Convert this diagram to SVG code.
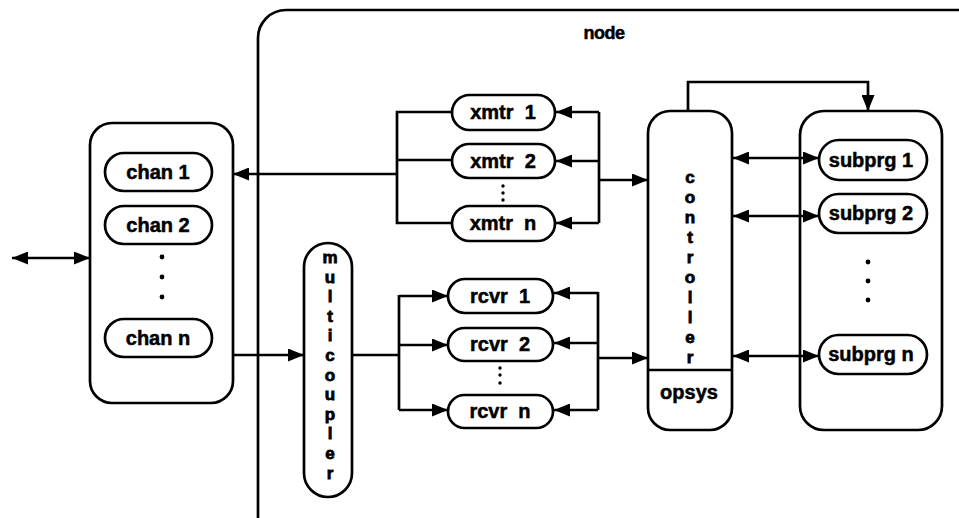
<svg xmlns="http://www.w3.org/2000/svg" width="959" height="518" viewBox="0 0 959 518">
  <defs>
    <marker id="ah" markerUnits="userSpaceOnUse" markerWidth="16" markerHeight="13" refX="16" refY="6.5" orient="auto-start-reverse">
      <path d="M0,0 L16,6.5 L0,13 z" fill="#000"/>
    </marker>
    <style>
      .box { fill: #fff; stroke: #000; stroke-width: 2.7; }
      .ln { fill: none; stroke: #000; stroke-width: 2.7; }
      .arr { marker-end: url(#ah); }
      .dbl { marker-start: url(#ah); marker-end: url(#ah); }
      text { font-family: "Liberation Sans", Arial, sans-serif; font-weight: bold; font-size: 20px; fill: #000; stroke: #000; stroke-width: 0.5; text-anchor: middle; white-space: pre; }
      .v { font-size: 17px; stroke-width: 0.8; }
      .dot { fill: #000; }
    </style>
  </defs>
  <rect width="959" height="518" fill="#fff"/>

  <!-- enclosing node -->
  <g id="node">
    <rect class="box" x="258" y="10" width="740" height="540" rx="28"/>
    <text x="604" y="39" style="font-size:18px;letter-spacing:-0.5px">node</text>
  </g>

  <!-- channel bank -->
  <g id="channels">
    <rect class="box" x="90" y="123" width="143" height="280" rx="22"/>
    <g id="chan1"><rect class="box" x="105" y="153" width="107" height="38" rx="19"/><text x="158" y="179">chan 1</text></g>
    <g id="chan2"><rect class="box" x="105" y="206" width="107" height="38" rx="19"/><text x="158" y="232">chan 2</text></g>
    <circle class="dot" cx="162" cy="257" r="2.4"/>
    <circle class="dot" cx="162" cy="277" r="2.4"/>
    <circle class="dot" cx="162" cy="297" r="2.4"/>
    <g id="chann"><rect class="box" x="105" y="319" width="107" height="38" rx="19"/><text x="158" y="345">chan n</text></g>
  </g>

  <!-- multicoupler: label stacked one letter per line -->
  <g id="multicoupler">
    <rect class="box" x="304" y="243" width="48" height="254" rx="24"/>
    <text class="v" x="330" y="263"><tspan x="330">m</tspan><tspan x="330" dy="19.6">u</tspan><tspan x="330" dy="19.6">l</tspan><tspan x="330" dy="19.6">t</tspan><tspan x="330" dy="19.6">i</tspan><tspan x="330" dy="19.6">c</tspan><tspan x="330" dy="19.6">o</tspan><tspan x="330" dy="19.6">u</tspan><tspan x="330" dy="19.6">p</tspan><tspan x="330" dy="19.6">l</tspan><tspan x="330" dy="19.6">e</tspan><tspan x="330" dy="19.6">r</tspan></text>
  </g>

  <!-- transmitters -->
  <g id="xmtr1"><rect class="box" x="452" y="95" width="103" height="35" rx="17.5"/><text x="503" y="119">xmtr  1</text></g>
  <g id="xmtr2"><rect class="box" x="452" y="144" width="103" height="34" rx="17"/><text x="503" y="168">xmtr  2</text></g>
  <g id="xmtrn"><rect class="box" x="452" y="206" width="103" height="35" rx="17.5"/><text x="503" y="230">xmtr  n</text></g>
  <circle class="dot" cx="503" cy="186" r="1.7"/>
  <circle class="dot" cx="503" cy="193" r="1.7"/>
  <circle class="dot" cx="503" cy="200" r="1.7"/>

  <!-- receivers -->
  <g id="rcvr1"><rect class="box" x="448" y="279" width="105" height="34" rx="17"/><text x="500" y="303">rcvr  1</text></g>
  <g id="rcvr2"><rect class="box" x="448" y="328" width="105" height="33" rx="16.5"/><text x="500" y="351">rcvr  2</text></g>
  <g id="rcvrn"><rect class="box" x="448" y="395" width="105" height="33" rx="16.5"/><text x="500" y="418">rcvr  n</text></g>
  <circle class="dot" cx="500" cy="368" r="1.7"/>
  <circle class="dot" cx="500" cy="375" r="1.7"/>
  <circle class="dot" cx="500" cy="383" r="1.7"/>

  <!-- controller with operating system compartment -->
  <g id="controller">
    <rect class="box" x="648" y="111" width="84" height="319" rx="22"/>
    <line class="ln" x1="648" y1="370" x2="732" y2="370"/>
    <text class="v" x="690" y="183"><tspan x="690">c</tspan><tspan x="690" dy="20">o</tspan><tspan x="690" dy="20">n</tspan><tspan x="690" dy="20">t</tspan><tspan x="690" dy="20">r</tspan><tspan x="690" dy="20">o</tspan><tspan x="690" dy="20">l</tspan><tspan x="690" dy="20">l</tspan><tspan x="690" dy="20">e</tspan><tspan x="690" dy="20">r</tspan></text>
    <text x="689" y="399">opsys</text>
  </g>

  <!-- subprograms -->
  <g id="subprograms">
    <rect class="box" x="800" y="111" width="142" height="319" rx="24"/>
    <g id="subprg1"><rect class="box" x="819" y="140" width="108" height="40" rx="20"/><text x="871" y="167">subprg 1</text></g>
    <g id="subprg2"><rect class="box" x="819" y="194" width="108" height="39" rx="19.5"/><text x="871" y="220">subprg 2</text></g>
    <circle class="dot" cx="868" cy="262" r="2.4"/>
    <circle class="dot" cx="868" cy="281" r="2.4"/>
    <circle class="dot" cx="868" cy="300" r="2.4"/>
    <g id="subprgn"><rect class="box" x="819" y="335" width="108" height="39" rx="19.5"/><text x="871" y="361">subprg n</text></g>
  </g>

  <!-- connectors -->
  <g id="connectors">
    <path class="ln dbl" d="M12,258 H90"/>
    <path class="ln arr" d="M397,174 H233"/>
    <path class="ln" d="M452,112 H397 V223 H452 M397,160 H452"/>
    <path class="ln" d="M599,112 V223"/>
    <path class="ln arr" d="M599,112 H556"/>
    <path class="ln arr" d="M599,161 H556"/>
    <path class="ln arr" d="M599,223 H556"/>
    <path class="ln arr" d="M599,180 H648"/>
    <path class="ln arr" d="M233,355 H304"/>
    <path class="ln" d="M352,355 H399 M399,295 V410"/>
    <path class="ln arr" d="M399,296 H448"/>
    <path class="ln arr" d="M399,345 H448"/>
    <path class="ln arr" d="M399,410 H448"/>
    <path class="ln" d="M598,292 V410"/>
    <path class="ln arr" d="M598,293 H554"/>
    <path class="ln arr" d="M598,343 H554"/>
    <path class="ln arr" d="M598,410 H554"/>
    <path class="ln arr" d="M598,358 H648"/>
    <path class="ln arr" d="M688,111 V82 H868 V111"/>
    <path class="ln dbl" d="M733,158 H819"/>
    <path class="ln dbl" d="M733,216 H819"/>
    <path class="ln dbl" d="M733,356 H819"/>
  </g>
</svg>
